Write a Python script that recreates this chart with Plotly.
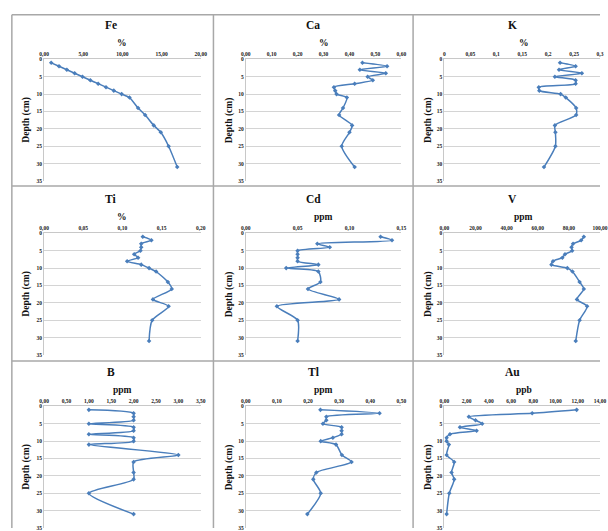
import plotly.graph_objects as go

W, H = 608, 531

depth = [1, 2, 3, 4, 5, 6, 7, 8, 9, 10, 11, 14, 16, 19, 21, 25, 31]

fe = [0.9, 1.9, 2.9, 3.9, 4.9, 5.9, 6.9, 7.9, 8.9, 9.9, 10.9, 12.0, 12.9, 14.0, 14.9, 15.9, 17.0]
ca = [0.45, 0.545, 0.44, 0.54, 0.47, 0.49, 0.42, 0.34, 0.345, 0.35, 0.39, 0.375, 0.36, 0.41, 0.40, 0.37, 0.42]
k = [0.223, 0.253, 0.221, 0.265, 0.213, 0.253, 0.253, 0.182, 0.183, 0.224, 0.234, 0.254, 0.254, 0.213, 0.214, 0.214, 0.192]
ti = [0.126, 0.137, 0.124, 0.124, 0.123, 0.115, 0.120, 0.106, 0.124, 0.134, 0.143, 0.158, 0.163, 0.139, 0.159, 0.138, 0.134]
cd = [0.13, 0.141, 0.069, 0.081, 0.05, 0.05, 0.05, 0.05, 0.07, 0.039, 0.07, 0.072, 0.06, 0.09, 0.03, 0.05, 0.05]
v = [89.6, 87.9, 82.7, 81.7, 82.1, 77.5, 75.8, 69.8, 68.8, 79.0, 82.3, 86.9, 89.6, 85.2, 91.7, 86.9, 84.4]
b = [1.0, 2.0, 2.0, 2.0, 1.0, 2.0, 2.0, 1.0, 2.0, 2.0, 1.0, 3.0, 2.0, 2.0, 2.0, 1.0, 2.0]
tl = [0.24, 0.43, 0.259, 0.259, 0.248, 0.308, 0.308, 0.308, 0.28, 0.241, 0.29, 0.309, 0.34, 0.227, 0.217, 0.241, 0.198]
au = [11.9, 7.9, 2.2, 2.8, 3.4, 1.4, 2.9, 0.5, 0.2, 0.2, 0.4, 0.2, 0.88, 0.64, 0.88, 0.44, 0.2]

names = ["Fe", "Ca", "K", "Ti", "Cd", "V", "B", "Tl", "Au"]
units = ["%", "%", "%", "%", "ppm", "ppm", "ppm", "ppm", "ppb"]
series = [fe, ca, k, ti, cd, v, b, tl, au]
tick_vals = [
    [0, 5, 10, 15, 20],
    [0, 0.1, 0.2, 0.3, 0.4, 0.5, 0.6],
    [0, 0.05, 0.1, 0.15, 0.2, 0.25, 0.3],
    [0, 0.05, 0.1, 0.15, 0.2],
    [0, 0.05, 0.1, 0.15],
    [0, 20, 40, 60, 80, 100],
    [0, 0.5, 1, 1.5, 2, 2.5, 3, 3.5],
    [0, 0.1, 0.2, 0.3, 0.4, 0.5],
    [0, 2, 4, 6, 8, 10, 12, 14],
]
tick_text = [
    ["0,00", "5,00", "10,00", "15,00", "20,00"],
    ["0,00", "0,10", "0,20", "0,30", "0,40", "0,50", "0,60"],
    ["0", "0,05", "0,1", "0,15", "0,2", "0,25", "0,3"],
    ["0,00", "0,05", "0,10", "0,15", "0,20"],
    ["0,00", "0,05", "0,10", "0,15"],
    ["0,00", "20,00", "40,00", "60,00", "80,00", "100,00"],
    ["0,00", "0,50", "1,00", "1,50", "2,00", "2,50", "3,00", "3,50"],
    ["0,00", "0,10", "0,20", "0,30", "0,40", "0,50"],
    ["0,00", "2,00", "4,00", "6,00", "8,00", "10,00", "12,00", "14,00"],
]
depth_ticks = [0, 5, 10, 15, 20, 25, 30, 35]

# layout geometry (pixels)
col_x = [(40, 200), (246, 405), (449, 608)]
row_y = [(57, 180), (233, 356), (408, 531)]
panel_center = [108, 315, 519]
ytitle_x = [22, 229, 432]

FONT = "Liberation Serif"
LINE = "#4A7EBB"

def px(x):
    return x / W

def py(y):
    return 1 - y / H

fig = go.Figure()
annotations = []
layout = {}
for i in range(9):
    r, c = divmod(i, 3)
    n = i + 1
    xa = "x" if n == 1 else f"x{n}"
    ya = "y" if n == 1 else f"y{n}"
    fig.add_trace(go.Scatter(
        x=series[i], y=depth, xaxis=xa, yaxis=ya,
        mode="lines+markers",
        line=dict(color=LINE, width=1.5, shape="spline", smoothing=0.7),
        marker=dict(color=LINE, size=3.5, symbol="diamond"),
        showlegend=False, hoverinfo="skip",
    ))
    x0, x1 = col_x[c]
    y0, y1 = row_y[r]
    xmax = tick_vals[i][-1]
    layout["xaxis" if n == 1 else f"xaxis{n}"] = dict(
        domain=[px(x0), min(1.0, px(x1))], anchor=ya, side="top",
        range=[0, xmax], tickvals=tick_vals[i], ticktext=tick_text[i],
        showgrid=False, zeroline=False, showline=True, linecolor="#C8C8C8",
        linewidth=1, ticks="", ticklen=0, ticklabeloverflow="allow",
        tickfont=dict(family=FONT, size=5.5, color="#222222", weight="bold"),
        fixedrange=True,
    )
    layout["yaxis" if n == 1 else f"yaxis{n}"] = dict(
        domain=[py(y1), py(y0)], anchor=xa,
        range=[35, 0], tickvals=depth_ticks, ticklabeloverflow="allow",
        showgrid=True, gridcolor="#D4D4D4", gridwidth=1,
        zeroline=False, showline=True, linecolor="#C8C8C8", linewidth=1,
        ticks="", tickfont=dict(family=FONT, size=5.5, color="#222222", weight="bold"),
        fixedrange=True,
    )
    # panel title
    annotations.append(dict(
        text=f"<b>{names[i]}</b>", x=px(panel_center[c]), y=py(y0 - 35),
        xref="paper", yref="paper", showarrow=False,
        font=dict(family=FONT, size=11.5, color="#111111"),
        xanchor="center", yanchor="middle",
    ))
    # unit
    annotations.append(dict(
        text=f"<b>{units[i]}</b>", x=px((x0 + x1) / 2 if c < 2 else 530), y=py(y0 - 16.5),
        xref="paper", yref="paper", showarrow=False,
        font=dict(family=FONT, size=9.5, color="#111111"),
        xanchor="center", yanchor="middle",
    ))
    # y title
    annotations.append(dict(
        text="<b>Depth (cm)</b>", x=px(ytitle_x[c]), y=py((y0 + y1) / 2),
        xref="paper", yref="paper", showarrow=False, textangle=-90,
        font=dict(family=FONT, size=9.5, color="#111111"),
        xanchor="center", yanchor="middle",
    ))

shapes = []
BORDER = "#A8A8A8"
for xv in [7, 213, 417]:
    shapes.append(dict(type="line", xref="paper", yref="paper",
                       x0=px(xv), x1=px(xv), y0=0, y1=py(12),
                       line=dict(color=BORDER, width=1.5)))
for yv in [12, 185, 362]:
    shapes.append(dict(type="line", xref="paper", yref="paper",
                       x0=px(7), x1=1, y0=py(yv), y1=py(yv),
                       line=dict(color=BORDER, width=1.5)))

fig.update_layout(
    width=W, height=H,
    margin=dict(l=0, r=0, t=0, b=0),
    paper_bgcolor="white", plot_bgcolor="white",
    annotations=annotations, shapes=shapes,
    **layout,
)

fig.write_html(
    "out.html",
    config={"displayModeBar": False, "staticPlot": True},
    post_script="document.body.style.margin='0';document.body.style.overflow='hidden';",
)
